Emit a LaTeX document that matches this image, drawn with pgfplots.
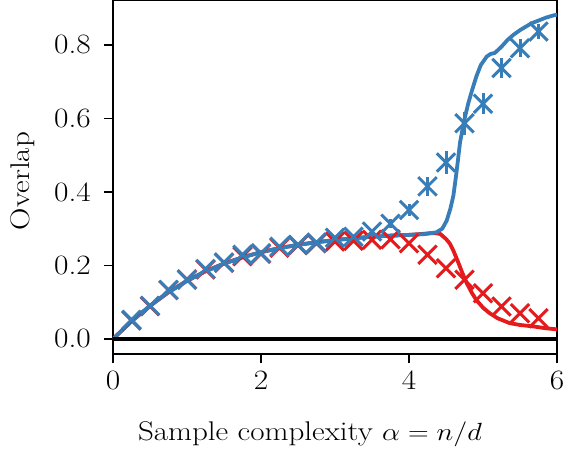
\documentclass[border=0pt]{standalone}
\usepackage{graphicx}
\usepackage{pgfplots}
\usepackage{pgfplotstable}
\pgfplotsset{compat=1.18}
\definecolor{cblue}{HTML}{377EB8}
\definecolor{cred}{HTML}{E41A1C}
\newcommand{\tickfont}{\fontsize{28}{32}\selectfont}
\newcommand{\labfont}{\fontsize{27}{32}\selectfont}

\pgfplotstableread{
x y e
0.25 0.052 0.004
0.50 0.090 0.004
0.75 0.133 0.004
1.00 0.161 0.004
1.25 0.190 0.004
1.50 0.208 0.004
1.75 0.229 0.004
2.00 0.233 0.004
2.25 0.251 0.004
2.50 0.256 0.004
2.75 0.262 0.004
3.00 0.275 0.005
3.25 0.278 0.006
3.50 0.292 0.008
3.75 0.313 0.012
4.00 0.351 0.016
4.25 0.415 0.025
4.50 0.480 0.031
4.75 0.587 0.031
5.00 0.640 0.028
5.25 0.737 0.028
5.50 0.791 0.024
5.75 0.836 0.021
}\bluepts

\pgfplotstableread{
x y
0.25 0.050
0.50 0.089
0.75 0.133
1.00 0.162
1.25 0.189
1.50 0.207
1.75 0.225
2.00 0.232
2.25 0.248
2.50 0.255
2.75 0.260
3.00 0.265
3.25 0.267
3.50 0.270
3.75 0.271
4.00 0.260
4.25 0.229
4.50 0.192
4.75 0.161
5.00 0.124
5.25 0.088
5.50 0.070
5.75 0.056
}\redpts

\pgfplotstableread{
x y
0.00 0.000
0.25 0.048
0.50 0.090
0.75 0.127
1.00 0.158
1.25 0.184
1.50 0.205
1.75 0.222
2.00 0.236
2.25 0.247
2.50 0.256
2.75 0.263
3.00 0.269
3.25 0.274
3.50 0.278
3.75 0.281
4.00 0.283
4.20 0.285
4.37 0.290
4.45 0.300
4.51 0.322
4.56 0.355
4.60 0.390
4.64 0.450
4.69 0.535
4.75 0.598
4.80 0.640
4.85 0.675
4.91 0.714
4.97 0.745
5.05 0.768
5.10 0.775
5.16 0.778
5.25 0.795
5.33 0.813
5.41 0.827
5.50 0.840
5.60 0.852
5.66 0.859
5.75 0.866
5.85 0.874
5.95 0.880
6.00 0.882
}\bluecurve

\pgfplotstableread{
x y
0.00 0.000
0.25 0.048
0.50 0.090
0.75 0.127
1.00 0.158
1.25 0.184
1.50 0.205
1.75 0.222
2.00 0.236
2.25 0.247
2.50 0.256
2.75 0.263
3.00 0.269
3.25 0.274
3.50 0.278
3.75 0.281
4.00 0.283
4.20 0.286
4.32 0.288
4.42 0.286
4.50 0.272
4.55 0.260
4.60 0.240
4.67 0.206
4.72 0.180
4.78 0.152
4.85 0.125
4.91 0.106
5.00 0.085
5.09 0.070
5.20 0.056
5.36 0.043
5.50 0.038
5.68 0.034
5.85 0.029
6.00 0.026
}\redcurve

\begin{document}
\begin{tikzpicture}
\begin{axis}[
  name=ax, at={(0,0)}, anchor=south west,
  scale only axis, width=444pt, height=354pt,
  xmin=0, xmax=6, ymin=-0.041, ymax=0.922,
  xtick={0,2,4,6}, ytick={0,0.2,0.4,0.6,0.8},
  tick align=outside, major tick length=9pt,
  every tick/.style={black, line width=1.6pt},
  axis line style={line width=1.6pt},
  xtick pos=bottom, ytick pos=left,
  /pgf/number format/assume math mode=true,
  xticklabel={\scalebox{1.12}[1]{\pgfmathprintnumber{\tick}}},
  yticklabel={\scalebox{1.12}[1]{\pgfmathprintnumber[fixed,fixed zerofill,precision=1]{\tick}}},
  xticklabel style={font=\tickfont, inner sep=0pt, anchor=north, yshift=-8pt},
  yticklabel style={font=\tickfont, inner sep=0pt, anchor=east, xshift=-13pt},
  xlabel={\scalebox{1.15}[1]{Sample complexity $\alpha = n/d$}},
  ylabel={\scalebox{1.15}[1]{Overlap}},
  xlabel style={font=\labfont, at={(axis description cs:0.5,0)}, anchor=center, yshift=-80pt, xshift=-25pt},
  ylabel style={font=\labfont, at={(axis description cs:0,0.5)}, anchor=center, yshift=90pt, xshift=-4pt},
]
\addplot[cred, line width=3.8pt, line join=round] table[x=x,y=y] {\redcurve};
\addplot[cred, only marks, mark=x, mark size=13pt, mark options={line width=3pt}] table[x=x,y=y] {\redpts};
\addplot[cblue, line width=3.8pt, line join=round] table[x=x,y=y] {\bluecurve};
\addplot[cblue, only marks, mark=x, mark size=13pt, mark options={line width=3pt},
  error bars/.cd, y dir=both, y explicit, error mark=none,
  error bar style={line width=3pt, cblue}] table[x=x,y=y,y error=e] {\bluepts};
\addplot[black, line width=4.5pt] coordinates {(0,0) (6,0)};
\end{axis}
\pgfresetboundingbox
\path (-113pt,-98pt) rectangle (451pt,354pt);
\end{tikzpicture}
\end{document}
